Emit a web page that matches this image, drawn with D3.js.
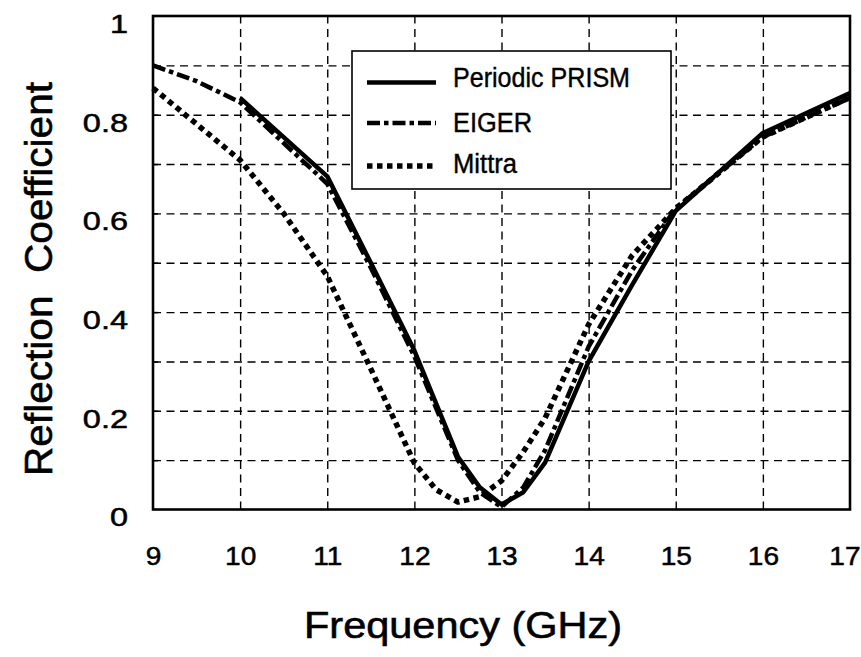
<!DOCTYPE html>
<html>
<head>
<meta charset="utf-8">
<script src="https://cdn.jsdelivr.net/npm/d3@7"></script>
<style>
  body { margin: 0; background: #fff; }
  svg { display: block; font-family: "Liberation Sans", Arial, Helvetica, sans-serif; }
</style>
</head>
<body>
<div id="chart"></div>
<script>
// Data
const prismFreq = [10, 11, 11.5, 12, 12.5, 12.75, 13, 13.25, 13.5, 14, 14.5, 15, 16, 17];
const prismVals = [0.834, 0.675, 0.50, 0.322, 0.107, 0.045, 0.01, 0.035, 0.095, 0.30, 0.455, 0.605, 0.763, 0.844];

const eigerFreq = [9, 9.5, 10, 11, 11.5, 12, 12.5, 12.75, 13, 13.25, 13.5, 14, 14.5, 15, 16, 17];
const eigerVals = [0.90, 0.868, 0.825, 0.66, 0.49, 0.31, 0.10, 0.035, 0.005, 0.045, 0.12, 0.33, 0.485, 0.61, 0.755, 0.834];

const mittraFreq = [9, 10, 10.5, 11, 11.5, 12, 12.25, 12.5, 12.75, 13, 13.25, 13.5, 14, 14.5, 15, 16, 17];
const mittraVals = [0.854, 0.708, 0.60, 0.473, 0.285, 0.094, 0.04, 0.015, 0.026, 0.058, 0.117, 0.185, 0.375, 0.515, 0.61, 0.755, 0.835];

const seriesNames = ['Periodic PRISM', 'EIGER', 'Mittra'];

const xTicks = [9, 10, 11, 12, 13, 14, 15, 16, 17];
const yTicks = [0, 0.2, 0.4, 0.6, 0.8, 1];
const yTickLabels = ['0', '0.2', '0.4', '0.6', '0.8', '1'];
const xGrid = [10, 11, 12, 13, 14, 15, 16];
const yGrid = [0.1, 0.2, 0.3, 0.4, 0.5, 0.6, 0.7, 0.8, 0.9];

// Chart dimensions
const width = 861;
const height = 657;
const margin = { left: 153, right: 850, top: 16, bottom: 509.5 };

const svg = d3.select('#chart')
  .append('svg')
  .attr('width', width)
  .attr('height', height);

svg.append('rect').attr('width', width).attr('height', height).attr('fill', '#fff');

const xScale = d3.scaleLinear().domain([9, 17]).range([margin.left, margin.right]);
const yScale = d3.scaleLinear().domain([0, 1]).range([margin.bottom, margin.top]);
const plotW = margin.right - margin.left;
const plotH = margin.bottom - margin.top;

// Grid lines (dashed)
const gridX = svg.append('g')
  .attr('transform', `translate(0,${margin.bottom})`)
  .call(d3.axisBottom(xScale).tickValues(xGrid).tickSize(-plotH).tickFormat(''));
const gridY = svg.append('g')
  .attr('transform', `translate(${margin.left},0)`)
  .call(d3.axisLeft(yScale).tickValues(yGrid).tickSize(-plotW).tickFormat(''));
[gridX, gridY].forEach(g => {
  g.select('.domain').remove();
  g.selectAll('line')
    .attr('stroke', '#000')
    .attr('stroke-width', 1.4)
    .attr('stroke-dasharray', '8,5.5');
});

// small inward ticks on the frame
const tickIn = svg.append('g')
  .attr('transform', `translate(${margin.left},0)`)
  .call(d3.axisLeft(yScale).tickValues(yGrid).tickSize(-5).tickFormat(''));
tickIn.select('.domain').remove();
tickIn.selectAll('line').attr('stroke', '#000').attr('stroke-width', 1.5);

// Series
const lineGen = d3.line()
  .x(d => xScale(d.x))
  .y(d => yScale(d.y));

const toPoints = (fs, vs) => fs.map((f, i) => ({ x: f, y: vs[i] }));

const styles = [
  { width: 4.5, dash: null },
  { width: 4.5, dash: '13,4,4.5,4' },
  { width: 5.5, dash: '5.5,4.5' }
];

const series = [
  toPoints(prismFreq, prismVals),
  toPoints(eigerFreq, eigerVals),
  toPoints(mittraFreq, mittraVals)
];

const plot = svg.append('g');
[2, 1, 0].forEach(i => {
  plot.append('path')
    .datum(series[i])
    .attr('d', lineGen)
    .attr('fill', 'none')
    .attr('stroke', '#000')
    .attr('stroke-width', styles[i].width)
    .attr('stroke-dasharray', styles[i].dash)
    .attr('stroke-linejoin', 'round');
});

// Frame
svg.append('rect')
  .attr('x', margin.left).attr('y', margin.top)
  .attr('width', plotW).attr('height', plotH)
  .attr('fill', 'none')
  .attr('stroke', '#000')
  .attr('stroke-width', 2.6);

// widen a text horizontally (the scanned labels are broad)
function stretch(sel, k) {
  sel.each(function () {
    const w = this.getComputedTextLength();
    d3.select(this).attr('textLength', w * k).attr('lengthAdjust', 'spacingAndGlyphs');
  });
}

// Axes labels
const xAxis = svg.append('g')
  .attr('transform', `translate(0,${margin.bottom})`)
  .call(d3.axisBottom(xScale).tickValues(xTicks).tickSize(0).tickPadding(37).tickFormat(d3.format('d')));
xAxis.select('.domain').remove();
xAxis.selectAll('text')
  .attr('font-size', 26)
  .attr('fill', '#000')
  .attr('stroke', '#000')
  .attr('stroke-width', 0.5)
  .style('font-family', '"Liberation Sans", Arial, sans-serif')
  .call(stretch, 1.08);
// last label sits against the right edge
xAxis.selectAll('text').filter(d => d === 17)
  .attr('text-anchor', 'end')
  .attr('x', 10);

const yAxis = svg.append('g')
  .attr('transform', `translate(${margin.left},0)`)
  .call(d3.axisLeft(yScale).tickValues(yTicks).tickSize(0).tickPadding(25).tickFormat((d, i) => yTickLabels[i]));
yAxis.select('.domain').remove();
yAxis.selectAll('text')
  .attr('font-size', 26)
  .attr('dy', '0.63em')
  .attr('fill', '#000')
  .attr('stroke', '#000')
  .attr('stroke-width', 0.5)
  .style('font-family', '"Liberation Sans", Arial, sans-serif')
  .call(stretch, 1.25);

// Axis titles
svg.append('text')
  .attr('x', 463)
  .attr('y', 638)
  .attr('text-anchor', 'middle')
  .attr('font-size', 37)
  .attr('stroke', '#000')
  .attr('stroke-width', 0.6)
  .attr('textLength', 318)
  .attr('lengthAdjust', 'spacingAndGlyphs')
  .text('Frequency (GHz)');

svg.append('text')
  .attr('transform', 'translate(52,279) rotate(-90)')
  .attr('text-anchor', 'middle')
  .attr('font-size', 39)
  .attr('stroke', '#000')
  .attr('stroke-width', 0.6)
  .attr('textLength', 394)
  .attr('lengthAdjust', 'spacingAndGlyphs')
  .style('white-space', 'pre')
  .text('Reflection  Coefficient');

// Legend
const legend = svg.append('g');
legend.append('rect')
  .attr('x', 352).attr('y', 51)
  .attr('width', 319).attr('height', 138)
  .attr('fill', '#fff')
  .attr('stroke', '#000')
  .attr('stroke-width', 1.6);

const legendLineY = [82.5, 123, 166];
const legendTextY = [86.5, 131.5, 173];
const legendTextW = [177, 79, 64];
seriesNames.forEach((name, i) => {
  legend.append('line')
    .attr('x1', 367).attr('x2', 436)
    .attr('y1', legendLineY[i]).attr('y2', legendLineY[i])
    .attr('stroke', '#000')
    .attr('stroke-width', styles[i].width)
    .attr('stroke-dasharray', styles[i].dash);
  legend.append('text')
    .attr('x', 453)
    .attr('y', legendTextY[i])
    .attr('font-size', 27)
    .attr('stroke', '#000')
    .attr('stroke-width', 0.4)
    .attr('textLength', legendTextW[i])
    .attr('lengthAdjust', 'spacingAndGlyphs')
    .text(name);
});
</script>
</body>
</html>
